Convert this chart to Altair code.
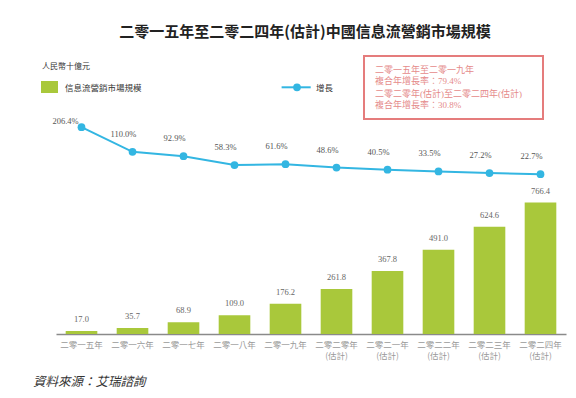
import altair as alt
import pandas as pd

# ---- data ----
years = ["二零一五年", "二零一六年", "二零一七年", "二零一八年", "二零一九年",
         "二零二零年\n(估計)", "二零二一年\n(估計)", "二零二二年\n(估計)",
         "二零二三年\n(估計)", "二零二四年\n(估計)"]
market = [17.0, 35.7, 68.9, 109.0, 176.2, 261.8, 367.8, 491.0, 624.6, 766.4]
growth = [206.4, 110.0, 92.9, 58.3, 61.6, 48.6, 40.5, 33.5, 27.2, 22.7]

title_text = "二零一五年至二零二四年(估計)中國信息流營銷市場規模"
unit_text = "人民幣十億元"
bar_legend = "信息流營銷市場規模"
line_legend = "增長"
box_lines = ["二零一五年至二零一九年", "複合年增長率：79.4%",
             "二零二零年(估計)至二零二四年(估計)", "複合年增長率：30.8%"]
source_text = "資料來源：艾瑞諮詢"

df = pd.DataFrame({"year": years, "market": market, "growth": growth})
df["market_label"] = [f"{v:.1f}" for v in market]
df["growth_label"] = [f"{v:.1f}%" for v in growth]

GREEN = "#a9c83b"
BLUE = "#33b6e2"
RED = "#e57c7c"
SERIF = "Liberation Serif, Noto Sans CJK TC"
CJK = "Noto Sans CJK TC"

x_enc = alt.X("year:N", sort=years,
              scale=alt.Scale(paddingInner=0.38, paddingOuter=0.19),
              axis=alt.Axis(title=None, labelAngle=0, ticks=False,
                            labelExpr="split(datum.label, '\\n')",
                            domainColor="#8a8a8a", domainWidth=1.5,
                            labelColor="#9a9a9a", labelFontSize=8.5,
                            labelFont=CJK, labelPadding=6,
                            labelLineHeight=11.5, grid=False))
y_bar = alt.Y("market:Q", scale=alt.Scale(domain=[0, 1364]), axis=None)
y_line = alt.Y("growth:Q", scale=alt.Scale(domain=[-601.6, 312.5]), axis=None)

base = alt.Chart(df)

bars = base.mark_bar(color=GREEN).encode(x=x_enc, y=y_bar)
bar_labels = base.mark_text(font=SERIF, fontSize=8.5, color="#666666",
                            baseline="middle", dy=-12).encode(
    x=x_enc, y=y_bar, text="market_label:N")

line = base.mark_line(color=BLUE, strokeWidth=2).encode(x=x_enc, y=y_line)
points = base.mark_point(filled=True, color=BLUE, size=60, opacity=1).encode(
    x=x_enc, y=y_line)

first = alt.Chart(df.iloc[:1])
rest = alt.Chart(df.iloc[1:])
gl_first = first.mark_text(font=SERIF, fontSize=8.5, color="#555555",
                           baseline="middle", dx=-16, dy=-6).encode(
    x=x_enc, y=y_line, text="growth_label:N")
gl_rest = rest.mark_text(font=SERIF, fontSize=8.5, color="#555555",
                         baseline="middle", dx=-9, dy=-18).encode(
    x=x_enc, y=y_line, text="growth_label:N")

one = pd.DataFrame({"a": [0]})


def label(text, x, y, size, color, font=CJK, align="left", **kw):
    return alt.Chart(pd.DataFrame({"t": [text]})).mark_text(
        font=font, fontSize=size, color=color, align=align,
        baseline="middle", **kw).encode(
        x=alt.value(x), y=alt.value(y), text="t:N")


title = label(title_text, 249, -68, 15, "#222222", align="center",
              fontWeight="bold")
unit = label(unit_text, -14, -33, 8, "#333333")
legend_sq = alt.Chart(one).mark_rect(color=GREEN).encode(
    x=alt.value(-15), x2=alt.value(2), y=alt.value(-19), y2=alt.value(-7))
legend_bar_txt = label(bar_legend, 9, -12.5, 8.5, "#333333")
legend_line = alt.Chart(one).mark_rule(color=BLUE, strokeWidth=2).encode(
    x=alt.value(225.6), x2=alt.value(254.7), y=alt.value(-12.7))
legend_dot = alt.Chart(one).mark_point(filled=True, color=BLUE, size=60,
                                       opacity=1).encode(
    x=alt.value(241), y=alt.value(-12.7))
legend_line_txt = label(line_legend, 260, -12.5, 8.5, "#333333")

box = alt.Chart(one).mark_rect(fill="transparent", stroke=RED,
                               strokeWidth=2).encode(
    x=alt.value(308), x2=alt.value(487), y=alt.value(-44), y2=alt.value(19))
box_ys = [-30, -19, -6, 5]
box_txt = [label(t, 319, yy, 9, "#e58a8a", font=SERIF)
           for t, yy in zip(box_lines, box_ys)]

source = label(source_text, -23, 282, 12.5, "#333333", fontStyle="italic")

chart = alt.layer(
    bars, bar_labels, line, points, gl_first, gl_rest,
    title, unit, legend_sq, legend_bar_txt, legend_line, legend_dot,
    legend_line_txt, box, *box_txt, source
).resolve_scale(y="independent").properties(
    width=510, height=234,
    padding={"left": 48, "top": 92, "right": 2, "bottom": 56},
    autosize=alt.AutoSizeParams(type="none"),
).configure_view(stroke=None)

chart.save("out.html", embed_options={"renderer": "svg", "actions": False})
